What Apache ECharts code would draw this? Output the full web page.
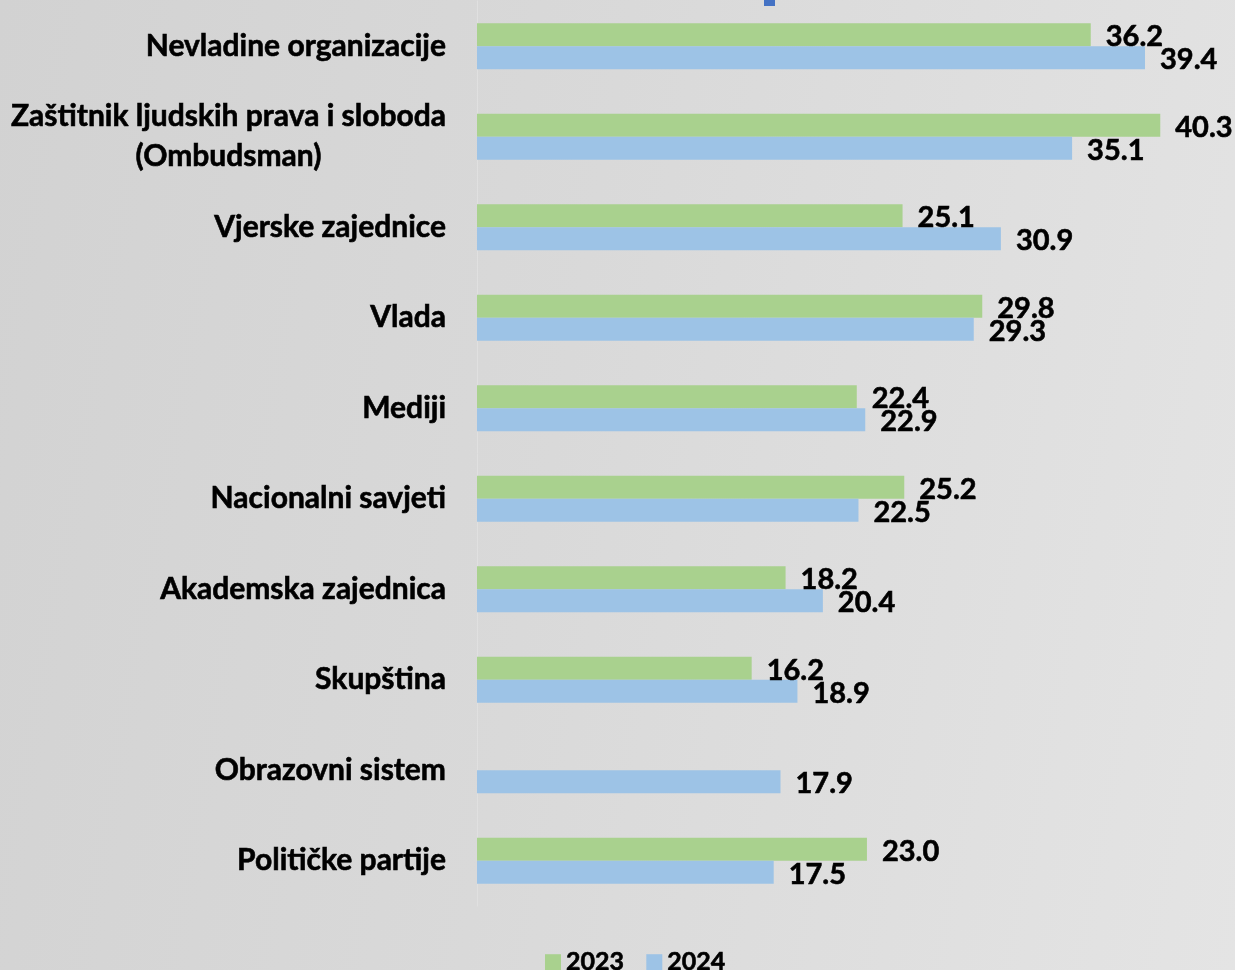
<!DOCTYPE html>
<html>
<head>
<meta charset="utf-8">
<script src="https://cdn.jsdelivr.net/npm/echarts@6/dist/echarts.min.js"></script>
<style>
  html, body { margin: 0; padding: 0; }
  #chart {
    width: 1235px;
    height: 970px;
    background: linear-gradient(100deg, #d2d2d2 0%, #d9d9d9 45%, #e4e4e4 100%);
  }
</style>
</head>
<body>
<div id="chart"></div>
<script>
const categories = [
  'Nevladine organizacije',
  'Zaštitnik ljudskih prava i sloboda\n(Ombudsman)',
  'Vjerske zajednice',
  'Vlada',
  'Mediji',
  'Nacionalni savjeti',
  'Akademska zajednica',
  'Skupština',
  'Obrazovni sistem',
  'Političke partije'
];
const values2023 = [36.2, 40.3, 25.1, 29.8, 22.4, 25.2, 18.2, 16.2, null, 23.0];
const values2024 = [39.4, 35.1, 30.9, 29.3, 22.9, 22.5, 20.4, 18.9, 17.9, 17.5];
const seriesNames = ['2023', '2024'];

const FONT = 'Lato, "Open Sans", sans-serif';

const chart = echarts.init(document.getElementById('chart'), null, { renderer: 'canvas' });

// bold text, a bit heavier to look like the original
const heavy = {
  color: '#000',
  fontFamily: FONT,
  fontWeight: 'bold',
  textBorderColor: '#000',
  textBorderWidth: 0.6
};

const valueLabel = {
  show: true,
  position: 'right',
  distance: 15,
  offset: [0, 2],
  ...heavy,
  fontSize: 29,
  formatter: (p) => p.value == null ? '' : Number(p.value).toFixed(1)
};

chart.setOption({
  backgroundColor: 'transparent',
  animation: false,
  grid: {
    left: 477,
    width: 746,
    top: 1,
    bottom: 64
  },
  legend: {
    data: seriesNames,
    bottom: -10,
    left: 540,
    itemWidth: 16,
    itemHeight: 16,
    itemGap: 22,
    icon: 'rect',
    textStyle: {
      ...heavy,
      fontSize: 25
    }
  },
  xAxis: {
    type: 'value',
    min: 0,
    max: 44,
    show: false
  },
  yAxis: {
    type: 'category',
    data: categories,
    inverse: true,
    axisLine: {
      show: true,
      lineStyle: { color: '#e0e0e0', width: 1 }
    },
    axisTick: { show: false },
    axisLabel: {
      margin: 31,
      ...heavy,
      fontSize: 30,
      lineHeight: 40,
      formatter: (v) => {
        const lines = v.split('\n');
        if (lines.length === 1) return v;
        return lines[0] + '\n{c|' + lines[1] + '}';
      },
      rich: {
        c: {
          align: 'center',
          ...heavy,
          fontSize: 30,
          lineHeight: 40
        }
      }
    }
  },
  graphic: [
    {
      type: 'rect',
      left: 764,
      top: 0,
      shape: { width: 11, height: 6 },
      style: { fill: '#4472c4' }
    }
  ],
  series: [
    {
      name: seriesNames[0],
      type: 'bar',
      data: values2023,
      barWidth: 23,
      barGap: '0%',
      itemStyle: { color: '#a9d18e' },
      label: valueLabel
    },
    {
      name: seriesNames[1],
      type: 'bar',
      data: values2024,
      barWidth: 23,
      barGap: '0%',
      itemStyle: { color: '#9dc3e6' },
      label: valueLabel
    }
  ]
});
</script>
</body>
</html>
